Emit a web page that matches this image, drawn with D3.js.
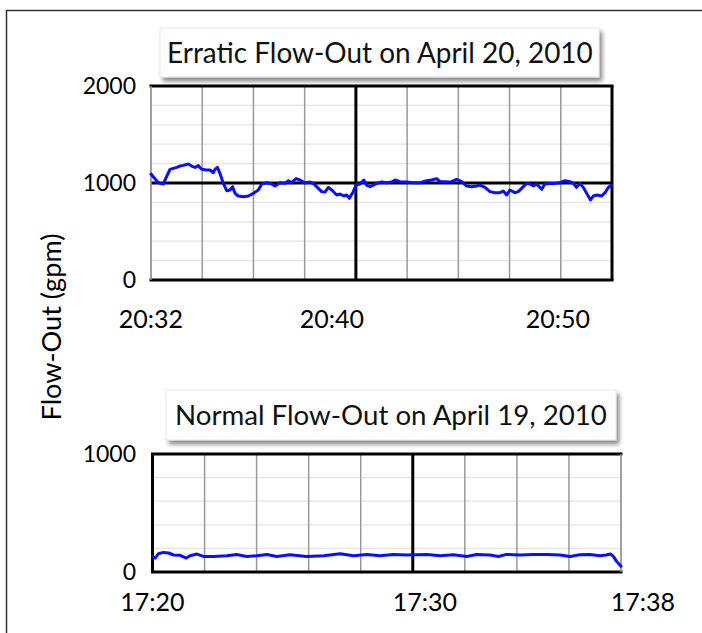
<!DOCTYPE html>
<html>
<head>
<meta charset="utf-8">
<script src="https://cdn.jsdelivr.net/npm/d3@7"></script>
<style>
html,body{margin:0;padding:0;background:#fff;}
svg{display:block;font-family:Lato,"DejaVu Sans",sans-serif;}
</style>
</head>
<body>
<svg id="chart" width="702" height="633"></svg>
<script>
// ---------- data ----------
const topTitle = "Erratic Flow-Out on April 20, 2010";
const bottomTitle = "Normal Flow-Out on April 19, 2010";
const yAxisTitle = "Flow-Out (gpm)";

// minutes after 20:32
const topMinutes = [0,0.10,0.28,0.40,0.55,0.69,0.84,0.99,1.14,1.28,1.43,1.65,1.80,1.95,2.09,2.24,2.46,2.61,2.76,2.83,2.94,3.05,3.20,3.35,3.50,3.61,3.72,3.86,4.09,4.31,4.53,4.75,4.90,5.12,5.34,5.49,5.71,5.93,6.08,6.22,6.42,6.59,6.81,7.04,7.18,7.33,7.55,7.70,7.85,8.00,8.22,8.36,8.54,8.66,8.78,8.95,9.07,9.25,9.42,9.54,9.69,9.84,9.99,10.21,10.43,10.65,10.80,11.02,11.31,11.61,11.90,12.20,12.42,12.64,12.79,13.01,13.16,13.30,13.52,13.75,13.97,14.19,14.41,14.56,14.78,15.00,15.22,15.44,15.59,15.74,15.88,16.11,16.25,16.40,16.62,16.77,16.92,17.06,17.29,17.43,17.65,17.88,18.10,18.32,18.54,18.69,18.83,18.98,19.13,19.28,19.45,19.57,19.75,19.94,20.09,20.24,20.38];
const topFlow = [1093,1065,1014,996,990,1065,1141,1151,1161,1175,1182,1196,1175,1161,1179,1141,1134,1134,1106,1141,1161,1100,996,921,928,962,893,866,859,866,893,928,990,1003,990,969,1003,996,1024,1003,1045,1031,1003,1010,996,962,911,907,955,928,876,886,866,876,842,911,979,990,1031,979,962,979,996,1010,1003,1010,1031,1014,1010,1003,1003,1024,1031,1045,1014,1014,1010,1014,1038,1014,969,962,969,979,955,911,900,900,917,876,928,900,911,945,996,990,969,990,935,990,996,996,1003,1024,1014,996,955,996,955,893,825,866,876,866,900,955,976];
const topTickMinutes = [0, 8, 18];
const topTickLabels = ["20:32", "20:40", "20:50"];
const topYTicks = [0, 1000, 2000];

// minutes after 17:20
const bottomMinutes = [0,0.10,0.22,0.40,0.59,0.77,1.02,1.24,1.38,1.63,1.87,2.24,2.73,3.09,3.46,3.83,4.20,4.56,5.05,5.66,6.28,6.89,7.38,7.87,8.35,8.84,9.33,9.70,10.07,10.56,11.05,11.54,11.90,12.39,12.70,13.00,13.49,13.98,14.47,14.96,15.33,15.69,16.06,16.43,16.65,16.82,16.92,17.04,17.20];
const bottomFlow = [132,118,155,166,161,144,141,118,138,152,132,132,138,149,132,138,149,132,146,132,138,155,138,149,138,149,144,146,149,138,146,132,149,144,132,149,144,149,149,144,132,146,149,138,144,152,132,90,48];
const bottomTickMinutes = [0, 10, 18];
const bottomTickLabels = ["17:20", "17:30", "17:38"];
const bottomYTicks = [0, 1000];

// ---------- drawing ----------
const svg = d3.select("#chart");
const defs = svg.append("defs");
const f = defs.append("filter").attr("id","shadow").attr("x","-10%").attr("y","-20%").attr("width","130%").attr("height","160%");
f.append("feDropShadow").attr("dx",3).attr("dy",4).attr("stdDeviation",2)
  .attr("flood-color","#000").attr("flood-opacity",0.45);

// outer frame
svg.append("path").attr("d","M6.5,640 L6.5,10.5 L705,10.5")
  .attr("fill","none").attr("stroke","#333").attr("stroke-width",1.5);

function fit(textSel, target){
  const w = textSel.node().getComputedTextLength();
  const fs = parseFloat(textSel.attr("font-size"));
  textSel.attr("font-size", fs*target/w);
}

function panel(o){
  const g = svg.append("g");
  const x = d3.scaleLinear().domain([0, o.maxMin]).range([o.left, o.right]);
  const y = d3.scaleLinear().domain([0, o.maxY]).range([o.bottom, o.top]);
  const xg = d3.scaleLinear().domain([0, 9]).range([o.left, o.right]);

  // minor horizontal gridlines
  g.append("g").selectAll("line").data(d3.range(200, o.maxY, 200).filter(v => v % 1000 !== 0))
    .join("line")
    .attr("x1", o.left).attr("x2", o.right)
    .attr("y1", d => y(d)).attr("y2", d => y(d))
    .attr("stroke", "#e4e4e4").attr("stroke-width", 1.2);

  // vertical gridlines
  g.append("g").selectAll("line").data(d3.range(0, 10))
    .join("line")
    .attr("x1", d => xg(d)).attr("x2", d => xg(d))
    .attr("y1", o.top).attr("y2", o.bottom)
    .attr("stroke", d => d === o.thickV ? "#000" : "#999")
    .attr("stroke-width", d => d === o.thickV ? 3 : 1.5);

  // major horizontal lines
  g.append("g").selectAll("line").data(o.yTicks.filter(v => v > 0 && v < o.maxY))
    .join("line")
    .attr("x1", o.left).attr("x2", o.right)
    .attr("y1", d => y(d)).attr("y2", d => y(d))
    .attr("stroke", "#000").attr("stroke-width", 3);

  // frame edges
  const edges = [
    {x1:o.left-1.5, x2:o.right+1.5, y1:y(o.maxY), y2:y(o.maxY), c:"#000", w:3},
    {x1:o.left-1.5, x2:o.right+1.5, y1:y(0), y2:y(0), c:"#000", w:3},
    {x1:o.left, x2:o.left, y1:o.top, y2:o.bottom, c:o.leftColor, w:o.leftW},
    {x1:o.right, x2:o.right, y1:o.top, y2:o.bottom, c:o.rightColor, w:o.rightW}
  ];
  g.append("g").selectAll("line").data(edges).join("line")
    .attr("x1", d=>d.x1).attr("x2", d=>d.x2).attr("y1", d=>d.y1).attr("y2", d=>d.y2)
    .attr("stroke", d=>d.c).attr("stroke-width", d=>d.w);

  // data line
  const pts = o.minutes.map((m,i)=>[m, o.flow[i]]);
  g.append("path").datum(pts)
    .attr("fill","none").attr("stroke","#0a10f5").attr("stroke-width",3)
    .attr("stroke-linejoin","round").attr("stroke-linecap","round")
    .attr("d", d3.line().x(d=>x(d[0])).y(d=>y(d[1])));

  // y labels
  g.append("g").selectAll("text").data(o.yTicks).join("text")
    .attr("x", 136).attr("y", d => y(d)).attr("dy","0.36em")
    .attr("text-anchor","end").attr("font-size", 23).attr("fill","#000")
    .text(d => d);

  // x labels
  g.append("g").selectAll("text").data(o.tickMinutes).join("text")
    .attr("x", d => x(d)).attr("y", o.xLabelY)
    .attr("text-anchor","middle").attr("font-size", 25).attr("fill","#000")
    .text((d,i) => o.tickLabels[i]);

  // title box
  const tb = o.titleBox;
  g.append("rect").attr("x", tb.x).attr("y", tb.y).attr("width", tb.w).attr("height", tb.h)
    .attr("fill","#fff").attr("stroke","#e0e0e0").attr("stroke-width",0.8)
    .attr("filter","url(#shadow)");
  const t = g.append("text").attr("x", tb.tx).attr("y", tb.ty)
    .attr("font-size", 25).attr("fill","#111").text(o.title);
  fit(t, tb.tw);
}

panel({
  left:151, right:612, top:86, bottom:280, maxY:2000, maxMin:20.4,
  thickV:4, leftColor:"#999", leftW:1.5, rightColor:"#000", rightW:3,
  yTicks: topYTicks, minutes: topMinutes, flow: topFlow,
  tickMinutes: topTickMinutes, tickLabels: topTickLabels, xLabelY: 328,
  title: topTitle,
  titleBox:{x:160, y:28, w:439, h:49, tx:167, ty:62.5, tw:426}
});

panel({
  left:152.5, right:621, top:454, bottom:572, maxY:1000, maxMin:17.2,
  thickV:5, leftColor:"#000", leftW:3, rightColor:"#999", rightW:1.5,
  yTicks: bottomYTicks, minutes: bottomMinutes, flow: bottomFlow,
  tickMinutes: bottomTickMinutes, tickLabels: bottomTickLabels, xLabelY: 611,
  title: bottomTitle,
  titleBox:{x:166, y:390, w:450, h:50, tx:175, ty:425, tw:432}
});

// y axis title
const yt = svg.append("text")
  .attr("transform","translate(61,327) rotate(-90)")
  .attr("text-anchor","middle").attr("font-size",24).attr("fill","#000")
  .text(yAxisTitle);
fit(yt, 187);
</script>
</body>
</html>
